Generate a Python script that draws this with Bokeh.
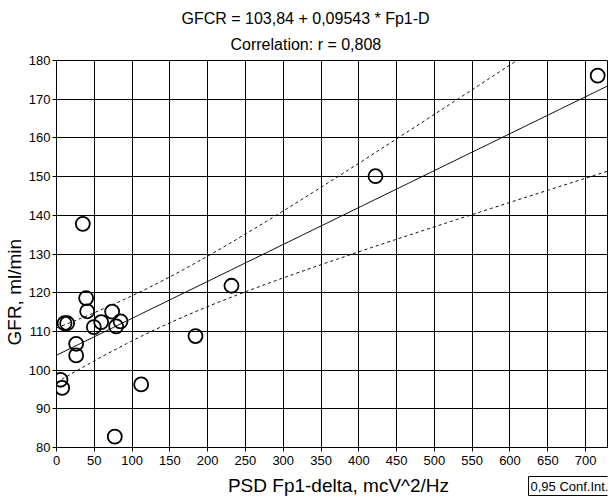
import numpy as np
from bokeh.plotting import figure
from bokeh.layouts import column
from bokeh.models import Range1d, FixedTicker, Label, Title
from bokeh.embed import file_html
from bokeh.resources import INLINE

# ---- data ----
psd = [716, 422, 231.5, 183.9, 34.8, 39.2, 40.6, 10.6, 14.1, 49.4,
       59.1, 73.6, 78.9, 84.7, 26, 26, 5.3, 7.5, 112, 77.1]
gfr = [176.1, 150.1, 121.8, 108.8, 137.8, 118.6, 115.2, 112.1, 112.1, 111.1,
       112.4, 115.1, 111.3, 112.6, 106.8, 103.8, 97.5, 95.4, 96.3, 82.8]
intercept = 103.84
slope = 0.09543
conf_level_t = 2.101  # t(0.975, df=18)
x_ticks = list(range(0, 701, 50))
y_ticks = list(range(80, 181, 10))
title_lines = ["GFCR  = 103,84 + 0,09543 * Fp1-D", "Correlation: r = 0,808"]
x_label = "PSD Fp1-delta, mcV^2/Hz"
y_label = "GFR, ml/min"
legend_text = "0,95 Conf.Int."

FONT = "Liberation Sans"
W = 611
H1 = 475   # main chart
H2 = 23    # strip under the chart holding the x label and the legend box

p = figure(width=W, height=H1, x_range=Range1d(0, 729), y_range=Range1d(80, 180),
           output_backend="svg", toolbar_location=None,
           min_border_left=56, min_border_right=4, min_border_top=60, min_border_bottom=H1 - 447)
p.background_fill_color = "white"
p.border_fill_color = "white"
p.outline_line_color = "black"
p.outline_line_width = 1

p.xaxis.ticker = FixedTicker(ticks=x_ticks)
p.yaxis.ticker = FixedTicker(ticks=y_ticks)
for ax in (p.xaxis, p.yaxis):
    ax.major_label_text_font = FONT
    ax.major_label_text_font_size = "13px"
    ax.major_label_text_color = "black"
    ax.axis_line_color = "black"
    ax.major_tick_line_color = "black"
    ax.minor_tick_line_color = None
    ax.major_tick_in = 0
    ax.major_tick_out = 4
p.xaxis.major_label_standoff = 4
p.yaxis.major_label_standoff = 2

p.xgrid.grid_line_color = "black"
p.ygrid.grid_line_color = "black"
p.xgrid.grid_line_width = 1
p.ygrid.grid_line_width = 1

# regression line and 95% confidence band for the mean
xs = np.linspace(0, 729, 300)
x_arr = np.array(psd, dtype=float)
y_arr = np.array(gfr, dtype=float)
n = len(x_arr)
resid = y_arr - (intercept + slope * x_arr)
s = np.sqrt(np.sum(resid ** 2) / (n - 2))
sxx = np.sum((x_arr - x_arr.mean()) ** 2)
fit = intercept + slope * xs
half = conf_level_t * s * np.sqrt(1.0 / n + (xs - x_arr.mean()) ** 2 / sxx)

p.line(xs, fit, line_color="black", line_width=1)
p.line(xs, fit + half, line_color="black", line_width=1, line_dash="3 3")
p.line(xs, fit - half, line_color="black", line_width=1, line_dash="3 3")

p.scatter(psd, gfr, marker="circle", size=14, fill_color=None,
          line_color="black", line_width=1.8)

# titles (later added = farther from the frame)
p.add_layout(Title(text=title_lines[1], align="left", offset=174, text_font=FONT,
                   text_font_size="16px", text_font_style="normal", text_color="black",
                   standoff=15), "above")
p.add_layout(Title(text=title_lines[0], align="left", offset=125, text_font=FONT,
                   text_font_size="16px", text_font_style="normal", text_color="black",
                   standoff=0), "above")
p.add_layout(Title(text=y_label, align="left", offset=102, text_font=FONT,
                   text_font_size="19px", text_font_style="normal", text_color="black",
                   standoff=2), "left")

# strip below: x label and confidence legend box
# (its frame is aligned with the main chart's frame: x is measured from the frame's left)
p2 = figure(width=W, height=H2, x_range=Range1d(0, 1), y_range=Range1d(0, 1),
            output_backend="svg", toolbar_location=None, min_border=0,
            x_axis_type=None, y_axis_type=None)
p2.outline_line_color = None
p2.background_fill_color = "white"
p2.border_fill_color = "white"
p2.xgrid.visible = False
p2.ygrid.visible = False
p2.add_layout(Label(x=282, y=13, x_units="screen", y_units="screen", text=x_label,
                    text_align="center", text_baseline="alphabetic", text_font=FONT,
                    text_font_size="19px", text_color="black"))
p2.add_layout(Label(x=472, y=22, x_units="screen", y_units="screen", text=legend_text,
                    text_align="left", text_baseline="top", text_font=FONT,
                    text_font_size="13px", text_color="black",
                    border_line_color="black", border_line_width=1,
                    background_fill_color="white", padding=2))

layout = column(p, p2, spacing=0)
open("out.html", "w").write(file_html(layout, INLINE))
